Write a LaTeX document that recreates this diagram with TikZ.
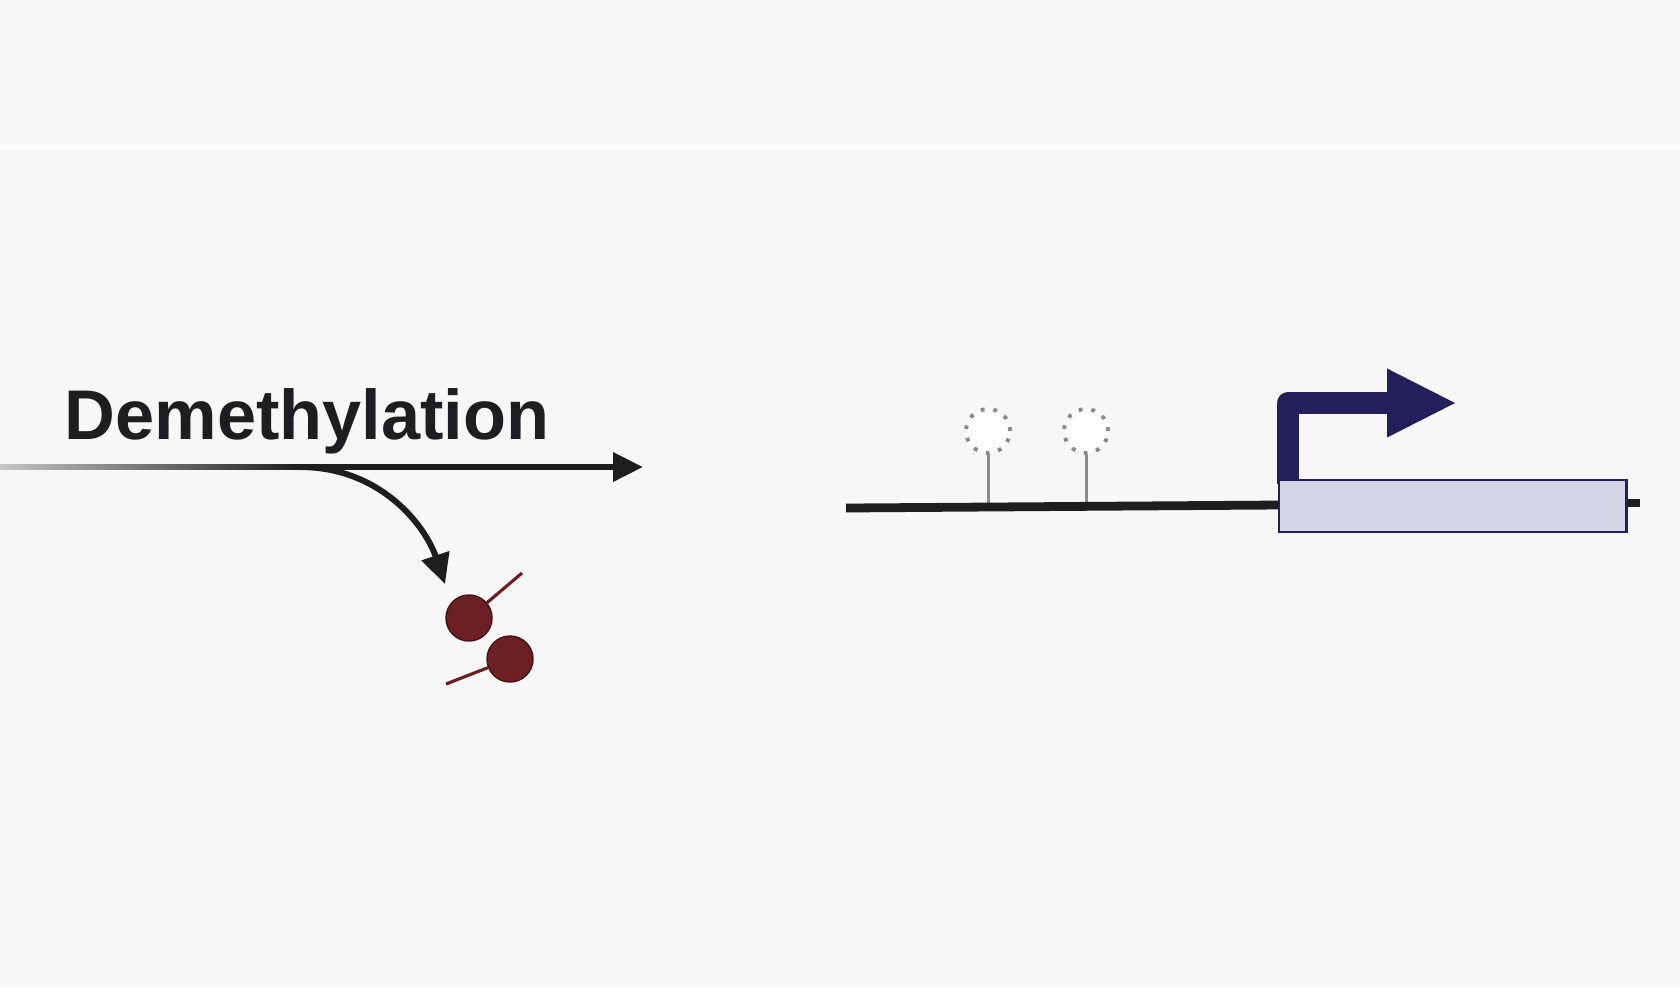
\documentclass[tikz,border=0pt]{standalone}
\usepackage{fontspec}
\setmainfont{Liberation Sans}
\usepackage{tikz}
\usetikzlibrary{positioning,arrows.meta,calc}
\definecolor{bggray}{RGB}{247,247,247}
\definecolor{inkdark}{RGB}{30,30,32}
\definecolor{methylred}{RGB}{108,32,36}
\definecolor{methyledge}{RGB}{70,18,22}
\definecolor{stemgray}{RGB}{138,138,140}
\definecolor{navy}{RGB}{34,32,90}
\definecolor{genefill}{RGB}{211,214,230}

\begin{document}
\begin{tikzpicture}[
  x=0.01cm, y=-0.01cm,
  every node/.style={font=\fontsize{20}{24}\selectfont\bfseries},
  flow/.style={draw=inkdark, line width=1.7pt,
               -{Triangle[length=8.5pt, width=8pt]}},
  methyl/.style={circle, draw=methyledge, fill=methylred, line width=0.4pt,
                 minimum size=0.46cm, inner sep=0pt},
  stick/.style={draw=methylred, line width=0.9pt},
  cpg/.style={circle, draw=stemgray, fill=white, line width=1.1pt,
              dash pattern=on 1.1pt off 2.5pt, minimum size=0.44cm, inner sep=0pt},
  stem/.style={draw=stemgray, line width=0.85pt},
  dna/.style={draw=inkdark, line width=2.5pt},
  genebox/.style={rectangle, draw=navy, fill=genefill, line width=0.8pt,
                  minimum width=3.47cm, minimum height=0.52cm, inner sep=0pt},
  promoter/.style={draw=navy, line width=6.2pt, line join=round,
                   -{Triangle[length=19.3pt, width=19.6pt, line width=0pt]}}
]
  % background and top separator
  \fill[bggray] (0,0) rectangle (1680,987);
  \useasboundingbox (0,0) rectangle (1680,987);
  \fill[white] (0,144) rectangle (1680,150);

  % demethylation pathway
  \node[anchor=base west, inner sep=0pt, text=inkdark] (title) at (64,439) {Demethylation};
  \coordinate (branch) at (300,467);
  \coordinate (out) at (643,467);
  \coordinate (drop) at (445,584);
  \shade[left color=bggray!80!black, right color=inkdark] (0,464.5) rectangle (300,469.5);
  \draw[flow] (branch) -- (out);
  \draw[flow] (branch) .. controls (380,467) and (425,525) .. (drop);

  % released methyl groups
  \node[methyl] (m1) at (469,618) {};
  \node[methyl] (m2) at (510,659) {};
  \coordinate (m1end) at (522,573);
  \coordinate (m2end) at (446,684);
  \draw[stick] (m1) -- (m1end);
  \draw[stick] (m2) -- (m2end);

  % unmethylated promoter
  \coordinate (dnaL) at (846,508);
  \coordinate (dnaR) at (1279,505);
  \coordinate (tail) at (1640,503);
  \node[cpg] (c1) at (988,431) {};
  \node[cpg] (c2) at (1086,431) {};
  \coordinate (s1) at (988,503);
  \coordinate (s2) at (1086,503);
  \draw[stem] (c1) -- (s1);
  \draw[stem] (c2) -- (s2);
  \draw[dna] (dnaL) -- (dnaR);
  \draw[dna] (1600,503) -- (tail);

  % transcription start
  \coordinate (start) at (1288,484);
  \coordinate (tss) at (1455,403);
  \draw[promoter] (start) |- (tss);
  \node[genebox] (gene) at (1452.5,506) {};
\end{tikzpicture}
\end{document}
